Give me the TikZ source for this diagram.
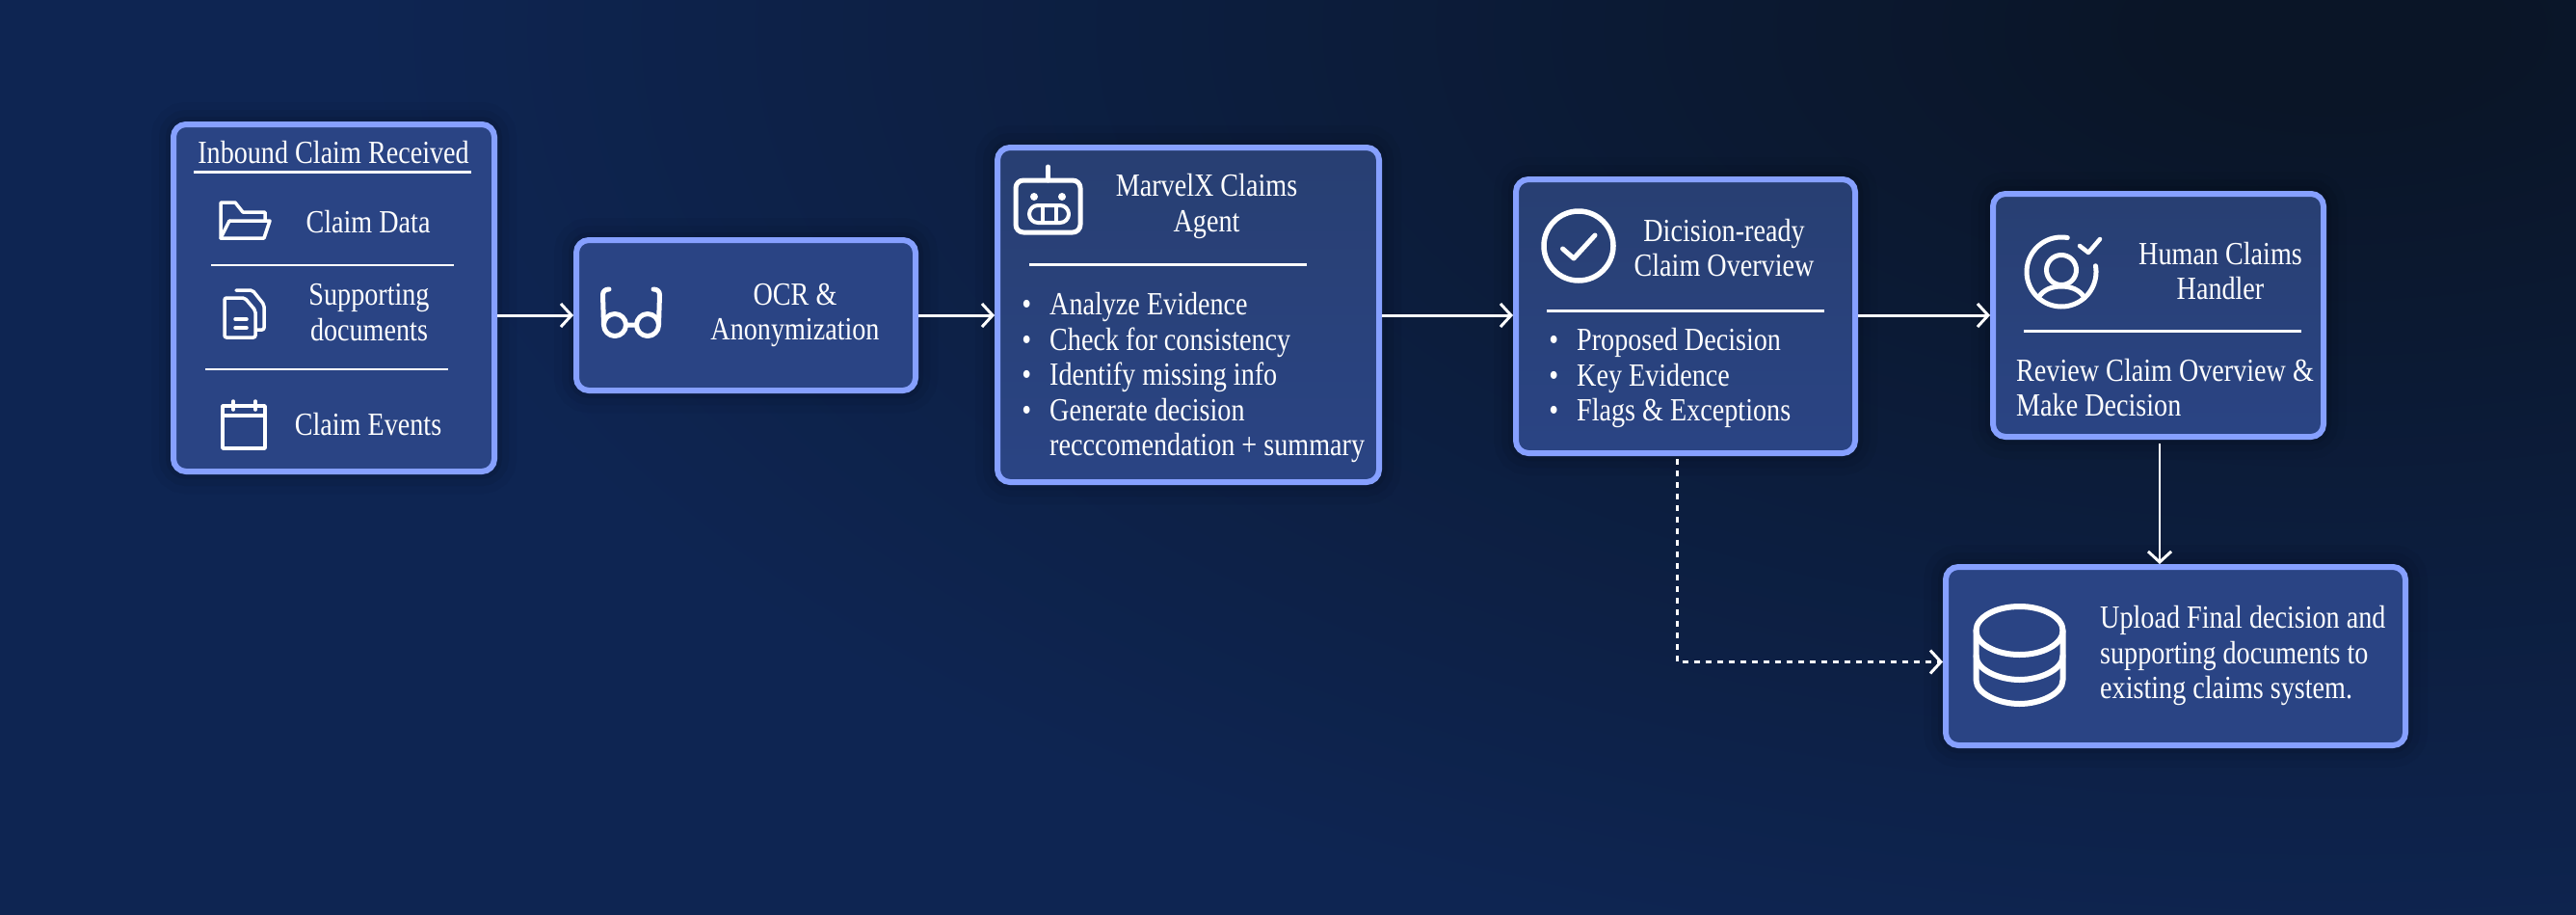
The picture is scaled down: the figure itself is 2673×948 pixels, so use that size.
\documentclass[tikz,border=0pt]{standalone}
\usepackage{fontspec}
\usetikzlibrary{arrows.meta}
\setmainfont{Liberation Serif}[FakeStretch=0.84]
\definecolor{bgbase}{HTML}{0E2552}
\definecolor{bgdark}{HTML}{0A1527}
\definecolor{cardfill}{HTML}{2A4484}
\definecolor{cardtop}{HTML}{283F72}
\definecolor{cardedge}{HTML}{86A0FF}
\pgfdeclareradialshading{bgglow}{\pgfpoint{0bp}{0bp}}{color(0bp)=(bgdark); color(2bp)=(bgdark); color(25bp)=(bgbase); color(50bp)=(bgbase)}
\tikzset{
  x=1pt,y=-1pt,
  card/.style={rounded corners=13pt,draw=cardedge,fill=cardfill,line width=6pt,inner sep=0pt,
    preaction={draw=black,opacity=.035,line width=46pt,yshift=-8pt,fill=none},
    preaction={draw=black,opacity=.05,line width=30pt,yshift=-8pt,fill=none},
    preaction={draw=black,opacity=.07,line width=16pt,yshift=-8pt,fill=none}},
  cardshaded/.style={card,top color=cardtop,bottom color=cardfill},
  txt/.style={text=white,inner sep=0pt,font=\fontsize{33.5}{36.5}\selectfont},
  ctxt/.style={txt,align=center},
  ltxt/.style={txt,align=left,anchor=west},
  rule/.style={draw=white,line width=3pt},
  thin rule/.style={draw=white,line width=2pt},
  flow/.style={draw=white,line width=3pt,-{Straight Barb[length=11pt,width=24pt,line width=3pt]}},
  icon/.style={draw=white,line width=4pt,line join=round,line cap=round},
}
\newcommand{\bul}{\llap{\textbullet\hspace{19pt}}}
\begin{document}
\begin{tikzpicture}
\useasboundingbox (0,0) rectangle (2673,948);
\begin{scope}
  \clip (-10,-10) rectangle (2683,958);
  \fill[bgbase] (-10,-10) rectangle (2683,958);
  \shade[shading=bgglow] (2420,30) ellipse (2050pt and 1000pt);
\end{scope}

\node[card,minimum width=333pt,minimum height=360pt] (b1) at (346.5,309) {};
\node[card,minimum width=352pt,minimum height=156pt] (b2) at (774,327) {};
\node[cardshaded,minimum width=396pt,minimum height=347pt] (b3) at (1233,326.5) {};
\node[cardshaded,minimum width=352pt,minimum height=284pt] (b4) at (1749,328) {};
\node[cardshaded,minimum width=343pt,minimum height=252pt] (b5) at (2239.5,327) {};
\node[card,minimum width=477pt,minimum height=185pt] (b6) at (2257.5,680.5) {};

% box 1
\node[ctxt] (t1) at (346,158) {Inbound Claim Received};
\draw[rule] (201,178) -- (489,178);
\node[ctxt] (t1a) at (382,230) {Claim Data};
\draw[thin rule] (219,275) -- (471,275);
\node[ctxt] (t1b) at (383,324) {Supporting\\documents};
\draw[thin rule] (213,383) -- (465,383);
\node[ctxt] (t1c) at (382,440) {Claim Events};
% folder
\draw[icon,line width=3.5pt] (238,229) -- (229,247) -- (229,210) -- (244,210) -- (252,220) -- (275,220) -- (275,229);
\draw[icon,line width=3.5pt] (238,229) -- (280,229) -- (274,247) -- (229,247);
% documents
\draw[icon,line width=3.5pt,rounded corners=2pt] (233,309) -- (254,309) -- (265,322) -- (265,350) -- (233,350) -- cycle;
\draw[icon,line width=3.5pt,rounded corners=2pt] (245,301) -- (262,301) -- (274,316) -- (274,342) -- (266,342);
\draw[icon,line width=3.5pt] (244,331) -- (256,331) (244,340) -- (256,340);
% calendar
\draw[icon,line width=3.5pt] (231,421) rectangle (275,465);
\draw[icon,line width=3.5pt] (231,431) -- (275,431) (242,416) -- (242,425) (265,416) -- (265,425);

% box 2
\node[ctxt] (t2) at (825,327) {OCR \&\\Anonymization};
\draw[icon,line width=5pt] (638,337) circle (11.5pt) (672,337) circle (11.5pt) (649.5,337) -- (660.5,337);
\draw[icon,line width=5pt] (626.5,337) -- (625.5,306) .. controls (625.5,302) and (628,300) .. (632,300);
\draw[icon,line width=5pt] (683.5,337) -- (684.5,306) .. controls (684.5,302) and (682,300) .. (678,300);

% box 3
\node[ctxt] (t3) at (1252,214) {MarvelX Claims\\Agent};
\draw[rule] (1068,274) -- (1356,274);
\node[ltxt] (t3l) at (1089,391.5) {\bul Analyze Evidence\\\bul Check for consistency\\\bul Identify missing info\\\bul Generate decision\\recccomendation + summary};
\draw[icon,line width=5pt,rounded corners=8pt] (1054,187) rectangle (1121,241);
\draw[icon,line width=5pt] (1087.5,173) -- (1087.5,187);
\fill[white] (1073,204) circle (4pt) (1102,204) circle (4pt);
\draw[icon,rounded corners=9pt] (1068,213) rectangle (1109,231);
\draw[icon,line width=4pt] (1082,213) -- (1082,231) (1096,213) -- (1096,231);

% box 4
\node[ctxt] (t4) at (1789,257) {Dicision-ready\\Claim Overview};
\draw[rule] (1605,322) -- (1893,322);
\node[ltxt] (t4l) at (1636,392) {\bul Proposed Decision\\\bul Key Evidence\\\bul Flags \& Exceptions};
\draw[icon,line width=5.5pt] (1638,255) circle (36pt);
\draw[icon,line width=5pt] (1621.5,258) -- (1633,268) -- (1655,244);

% box 5
\node[ctxt] (t5) at (2304,281) {Human Claims\\Handler};
\draw[rule] (2100,343) -- (2388,343);
\node[ltxt] (t5l) at (2092,402) {Review Claim Overview \&\\Make Decision};
\draw[icon,line width=5pt] plot[domain=80:370,samples=70] ({2139+36*cos(\x)},{282-36*sin(\x)});
\draw[icon,line width=5pt] (2139,280) circle (15.5pt);
\draw[icon,line width=5pt] (2115,309) .. controls (2120,300) and (2130,297) .. (2139,297) .. controls (2148,297) and (2158,300) .. (2163,309);
\draw[icon,line width=4.5pt] (2158,255) -- (2167,262) -- (2179,248);

% box 6
\node[ltxt] (t6) at (2179,680) {Upload Final decision and\\supporting documents to\\existing claims system.};
\begin{scope}[icon,line width=6pt]
\draw (2095.5,654) ellipse (45pt and 25pt);
\draw (2050.5,654) -- (2050.5,705) .. controls (2050.5,720) and (2075,730) .. (2095.5,730) .. controls (2116,730) and (2140.5,720) .. (2140.5,705) -- (2140.5,654);
\draw (2050.5,680) .. controls (2050.5,695) and (2075,705) .. (2095.5,705) .. controls (2116,705) and (2140.5,695) .. (2140.5,680);
\end{scope}

% connectors
\draw[flow] (b1.east |- b2.west) -- (b2.west);
\draw[flow] (b2.east) -- (b3.west |- b2.east);
\draw[flow] (b3.east |- b2.east) -- (b4.west |- b2.east);
\draw[flow] (b4.east |- b2.east) -- (b5.west |- b2.east);
\coordinate (v5) at (2241,460);
\draw[flow,line width=2pt] (v5) -- (v5 |- b6.north);
\coordinate (d4) at (1740,476);
\coordinate (d6) at (2016,686.5);
\draw[flow,dash pattern=on 6pt off 6pt] (d4) -- (d4 |- d6) -- (d6);
\end{tikzpicture}
\end{document}
